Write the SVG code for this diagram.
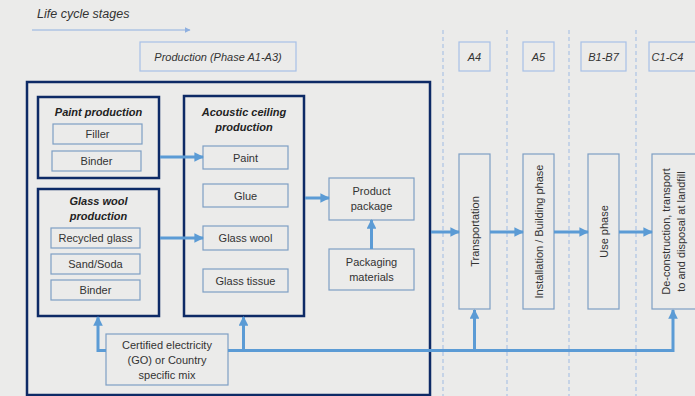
<svg xmlns="http://www.w3.org/2000/svg" width="695" height="396" viewBox="0 0 695 396">
  <defs>
    <style>
      .bg { fill: #ebebea; }
      .t { font-family: "Liberation Sans", Arial, sans-serif; font-size: 11px; fill: #333333; text-anchor: middle; }
      .ti { font-family: "Liberation Sans", Arial, sans-serif; font-size: 11px; fill: #333333; text-anchor: middle; font-style: italic; }
      .tb { font-family: "Liberation Sans", Arial, sans-serif; font-size: 11px; fill: #222222; text-anchor: middle; font-style: italic; font-weight: bold; }
      .hdr { fill: #ebebea; stroke: #a7c0e6; stroke-width: 1.2; }
      .item { fill: #ebebea; stroke: #7e9fc4; stroke-width: 1.2; }
      .grp { fill: #ebebea; stroke: #0d2a66; stroke-width: 2.5; }
      .dash { stroke: #9fbbe3; stroke-width: 1; stroke-dasharray: 4 3; fill: none; }
      .flow { stroke: #5b9bd5; stroke-width: 3; fill: none; }
    </style>
    <marker id="ah" viewBox="0 0 10 10" refX="9" refY="5" markerWidth="3.2" markerHeight="3.2" orient="auto" markerUnits="strokeWidth">
      <path d="M0,0 L10,5 L0,10 z" fill="#5b9bd5"/>
    </marker>
    <marker id="ahs" viewBox="0 0 10 10" refX="9" refY="5" markerWidth="6" markerHeight="6" orient="auto" markerUnits="strokeWidth">
      <path d="M0,0 L10,5 L0,10 z" fill="#8fb0e0"/>
    </marker>
  </defs>

  <rect class="bg" x="0" y="0" width="695" height="396"/>

  <!-- title and timeline -->
  <text x="37" y="18" style="font-family:'Liberation Sans',Arial,sans-serif;font-size:12.5px;font-style:italic;fill:#333333">Life cycle stages</text>
  <line x1="32" y1="30" x2="190" y2="30" stroke="#8fb0e0" stroke-width="1" marker-end="url(#ahs)"/>

  <!-- phase separators -->
  <g id="separators">
    <line class="dash" x1="443" y1="30" x2="443" y2="396"/>
    <line class="dash" x1="507" y1="30" x2="507" y2="396"/>
    <line class="dash" x1="569" y1="30" x2="569" y2="396"/>
    <line class="dash" x1="636" y1="30" x2="636" y2="396"/>
  </g>

  <!-- phase headers -->
  <g id="hdr-a1a3"><rect class="hdr" x="140" y="42" width="156" height="29"/><text class="ti" x="218" y="60.5">Production (Phase A1-A3)</text></g>
  <g id="hdr-a4"><rect class="hdr" x="459" y="42" width="31" height="29"/><text class="ti" x="474.5" y="60.5">A4</text></g>
  <g id="hdr-a5"><rect class="hdr" x="523" y="42" width="31" height="29"/><text class="ti" x="538.5" y="60.5">A5</text></g>
  <g id="hdr-b"><rect class="hdr" x="581" y="42" width="45" height="29"/><text class="ti" x="603.5" y="60.5">B1-B7</text></g>
  <g id="hdr-c"><rect class="hdr" x="649" y="42" width="50" height="29"/><text class="ti" x="667.5" y="60.5">C1-C4</text></g>

  <!-- production boundary -->
  <g id="production-boundary">
    <rect class="grp" x="27" y="82" width="403" height="313"/>
  </g>

  <!-- paint production -->
  <g id="paint-production">
    <rect class="grp" x="38" y="97" width="121" height="81"/>
    <text class="tb" x="98.5" y="116">Paint production</text>
    <rect class="item" x="53" y="124" width="89" height="20"/><text class="t" x="97.5" y="138">Filler</text>
    <rect class="item" x="52" y="151" width="89" height="20"/><text class="t" x="96.5" y="165">Binder</text>
  </g>

  <!-- glass wool production -->
  <g id="glasswool-production">
    <rect class="grp" x="38" y="189" width="121" height="127"/>
    <text class="tb" x="98.5" y="205">Glass wool</text>
    <text class="tb" x="98.5" y="220">production</text>
    <rect class="item" x="51" y="228" width="89" height="20"/><text class="t" x="95.5" y="242">Recycled glass</text>
    <rect class="item" x="51" y="254" width="89" height="20"/><text class="t" x="95.5" y="268">Sand/Soda</text>
    <rect class="item" x="51" y="280" width="89" height="20"/><text class="t" x="95.5" y="294">Binder</text>
  </g>

  <!-- acoustic ceiling production -->
  <g id="ceiling-production">
    <rect class="grp" x="184" y="96" width="120" height="220"/>
    <text class="tb" x="244" y="116">Acoustic ceiling</text>
    <text class="tb" x="244" y="131">production</text>
    <rect class="item" x="203" y="146" width="85" height="23"/><text class="t" x="245.5" y="161.5">Paint</text>
    <rect class="item" x="203" y="184" width="85" height="23"/><text class="t" x="245.5" y="199.5">Glue</text>
    <rect class="item" x="203" y="226" width="85" height="24"/><text class="t" x="245.5" y="242">Glass wool</text>
    <rect class="item" x="203" y="269" width="85" height="23"/><text class="t" x="245.5" y="284.5">Glass tissue</text>
  </g>

  <g id="product-package">
    <rect class="item" x="329" y="178" width="85" height="42"/>
    <text class="t" x="371.5" y="195">Product</text>
    <text class="t" x="371.5" y="210">package</text>
  </g>
  <g id="packaging-materials">
    <rect class="item" x="329" y="249" width="85" height="41"/>
    <text class="t" x="371.5" y="266">Packaging</text>
    <text class="t" x="371.5" y="281">materials</text>
  </g>

  <g id="electricity">
    <rect class="item" x="106" y="334" width="122" height="51"/>
    <text class="t" x="167" y="349">Certified electricity</text>
    <text class="t" x="167" y="364">(GO) or Country</text>
    <text class="t" x="167" y="379">specific mix</text>
  </g>

  <!-- downstream stages -->
  <g id="transportation">
    <rect class="item" x="459" y="154" width="31" height="155"/>
    <text class="t" transform="translate(479,231.5) rotate(-90)">Transportation</text>
  </g>
  <g id="installation">
    <rect class="item" x="523" y="154" width="31" height="155"/>
    <text class="t" transform="translate(543,231.5) rotate(-90)">Installation / Building phase</text>
  </g>
  <g id="use-phase">
    <rect class="item" x="588" y="154" width="31" height="155"/>
    <text class="t" transform="translate(608,231.5) rotate(-90)">Use phase</text>
  </g>
  <g id="end-of-life">
    <rect class="item" x="652" y="154" width="45" height="155"/>
    <text class="t" transform="translate(670,231.5) rotate(-90)">De-construction, transport</text>
    <text class="t" transform="translate(685,231.5) rotate(-90)">to and disposal at landfill</text>
  </g>

  <!-- connectors -->
  <g id="connectors">
    <line class="flow" x1="160" y1="157" x2="203" y2="157" marker-end="url(#ah)"/>
    <line class="flow" x1="160" y1="238" x2="203" y2="238" marker-end="url(#ah)"/>
    <line class="flow" x1="305" y1="198" x2="329" y2="198" marker-end="url(#ah)"/>
    <line class="flow" x1="371.5" y1="249" x2="371.5" y2="220" marker-end="url(#ah)"/>
    <line class="flow" x1="431" y1="232" x2="459" y2="232" marker-end="url(#ah)"/>
    <line class="flow" x1="490" y1="232" x2="523" y2="232" marker-end="url(#ah)"/>
    <line class="flow" x1="554" y1="232" x2="588" y2="232" marker-end="url(#ah)"/>
    <line class="flow" x1="619" y1="232" x2="652" y2="232" marker-end="url(#ah)"/>
    <!-- electricity supply -->
    <polyline class="flow" points="106,350.5 98,350.5 98,317" marker-end="url(#ah)"/>
    <polyline class="flow" points="228,350.5 673,350.5 673,310" marker-end="url(#ah)"/>
    <line class="flow" x1="243.5" y1="350.5" x2="243.5" y2="317" marker-end="url(#ah)"/>
    <line class="flow" x1="474.5" y1="350.5" x2="474.5" y2="310" marker-end="url(#ah)"/>
  </g>
</svg>
